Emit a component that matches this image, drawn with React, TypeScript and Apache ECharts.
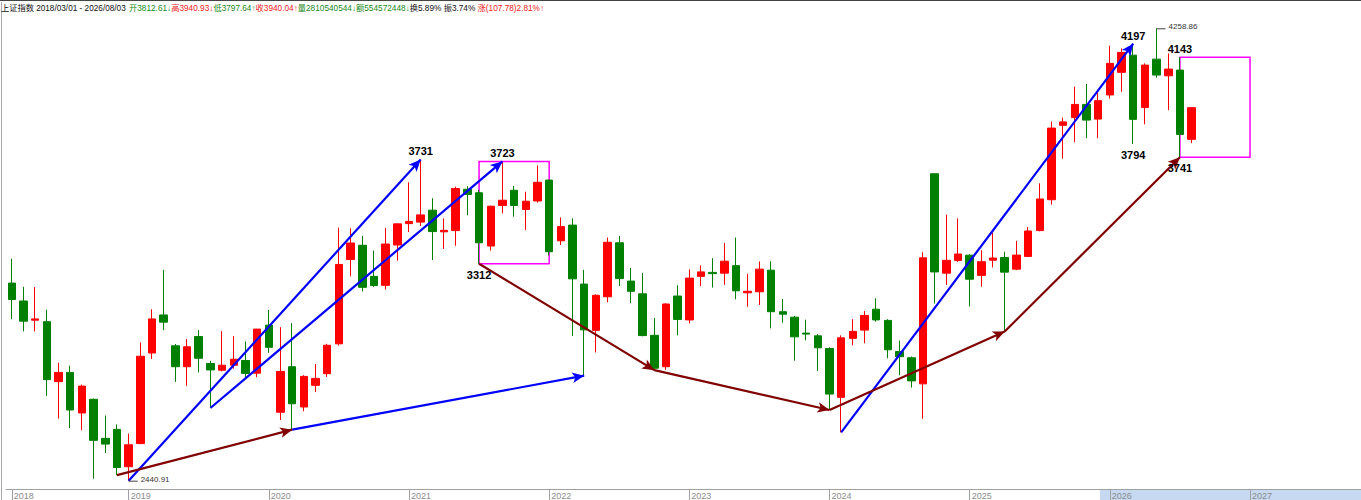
import React, { useEffect, useRef } from 'react';
import * as echarts from 'echarts';

// ---------- data ----------
const START_YEAR = 2018;
const START_MONTH = 3;
const SLOT_COUNT = 116; // data months + empty future months on the right

// each row: [open, high, low, close]
const ohlc2018 = [
  [3235, 3333, 3091, 3169], [3163, 3220, 3041, 3082], [3086, 3219, 3041, 3091],
  [3080, 3128, 2782, 2847], [2839, 2915, 2691, 2876], [2876, 2903, 2653, 2725],
  [2713, 2827, 2644, 2821], [2768, 2771, 2449, 2603], [2611, 2703, 2552, 2588],
  [2647, 2667, 2463, 2494],
];
const ohlc2019 = [
  [2497, 2630, 2440.91, 2585], [2590, 2997, 2588, 2941], [2954, 3130, 2930, 3091],
  [3107, 3288, 3046, 3078], [2983, 2990, 2838, 2899], [2899, 3010, 2822, 2979],
  [3020, 3046, 2876, 2933], [2912, 2923, 2733, 2886], [2885, 3042, 2880, 2905],
  [2905, 3022, 2891, 2929], [2924, 3000, 2857, 2872], [2873, 3051, 2857, 3050],
];
const ohlc2020 = [
  [3066, 3127, 2955, 2977], [2716, 3058, 2685, 2880], [2899, 3074, 2646, 2750],
  [2737, 2865, 2720, 2860], [2824, 2910, 2797, 2852], [2871, 2991, 2858, 2985],
  [2991, 3458, 2984, 3310], [3330, 3455, 3262, 3396], [3387, 3425, 3202, 3218],
  [3262, 3366, 3220, 3225], [3226, 3457, 3209, 3392], [3388, 3474, 3325, 3473],
];
const ohlc2021 = [
  [3474, 3640, 3440, 3483], [3480, 3731.69, 3464, 3509], [3528, 3576, 3328, 3442],
  [3441, 3495, 3372, 3447], [3446, 3622, 3385, 3615], [3612, 3624, 3508, 3591],
  [3598, 3610, 3312.72, 3397], [3384, 3546, 3366, 3544], [3547, 3723.85, 3515, 3568],
  [3608, 3625, 3502, 3547], [3531, 3602, 3448, 3564], [3565, 3708, 3558, 3640],
];
const ohlc2022 = [
  [3649, 3651, 3346, 3361], [3405, 3499, 3388, 3462], [3468, 3495, 3023, 3252],
  [3231, 3288, 2863, 3047], [3045, 3190, 2956, 3186], [3180, 3418, 3158, 3399],
  [3397, 3424, 3223, 3253], [3243, 3296, 3155, 3202], [3192, 3275, 3021, 3024],
  [3025, 3095, 2885, 2893], [2899, 3154, 2886, 3151], [3183, 3226, 3025, 3089],
];
const ohlc2023 = [
  [3087, 3290, 3073, 3255], [3262, 3306, 3223, 3280], [3278, 3335, 3217, 3273],
  [3275, 3396, 3228, 3323], [3305, 3418, 3170, 3204], [3196, 3272, 3140, 3202],
  [3200, 3322, 3147, 3291], [3287, 3322, 3053, 3120], [3120, 3171, 3076, 3110],
  [3098, 3103, 2923, 3019], [3034, 3088, 3005, 3030], [3023, 3030, 2882, 2975],
];
const ohlc2024 = [
  [2972, 2977, 2725, 2789], [2776, 3025, 2635, 3015], [3013, 3090, 2985, 3041],
  [3046, 3123, 2993, 3105], [3130, 3174, 3080, 3087], [3085, 3090, 2933, 2967],
  [2960, 3004, 2865, 2939], [2935, 2940, 2815, 2842], [2830, 3358.59, 2689.7, 3336.5],
  [3674.4, 3674.4, 3152.8, 3279.8], [3275, 3509.8, 3228, 3326.5], [3326, 3494.9, 3320, 3351.8],
];
const ohlc2025 = [
  [3347, 3351, 3141, 3250.6], [3266, 3367, 3220, 3320.9], [3327, 3440, 3298, 3335.7],
  [3338, 3361, 3040.7, 3279], [3291, 3405, 3287, 3347.5], [3342, 3460, 3340, 3444.4],
  [3446, 3636, 3443, 3573], [3570, 3884, 3550, 3857.9], [3869, 3900, 3735, 3882.8],
  [3900, 4024, 3801, 3953], [3953, 4035, 3817, 3890], [3894, 4004, 3817, 3968],
];
const ohlc2026 = [
  [3991, 4189, 3977, 4118], [4082, 4178, 4004, 4162], [4151, 4197, 3794, 3893],
  [3941, 4118, 3873, 4111], [4135, 4258.86, 4060, 4071], [4068, 4158, 3930, 4095],
  [4091, 4143, 3741, 3832.26], [3812.61, 3940.93, 3797.64, 3940.04],
];

// trend lines: [fromMonth, fromValue, toMonth, toValue]
const blueLines: [string, number, string, number][] = [
  ['2019/01', 2440.91, '2021/02', 3731.69],
  ['2019/08', 2733, '2021/09', 3723.85],
  ['2020/03', 2646, '2022/04', 2863],
  ['2024/02', 2635, '2026/03', 4197],
];
const maroonLines: [string, number, string, number][] = [
  ['2018/12', 2463, '2020/03', 2646],
  ['2021/07', 3312.72, '2022/10', 2885],
  ['2022/10', 2885, '2024/01', 2725],
  ['2024/01', 2725, '2025/04', 3040.7],
  ['2025/04', 3040.7, '2026/07', 3741],
];
const boxes: [string, number, string, number][] = [
  ['2021/07', 3723.85, '2022/01', 3312.72],
  ['2026/07', 4143, '2027/01', 3741],
];
const pointLabels = [
  { month: '2021/02', value: 3731.69, text: '3731', side: 'above' },
  { month: '2021/09', value: 3723.85, text: '3723', side: 'above' },
  { month: '2021/07', value: 3312.72, text: '3312', side: 'below' },
  { month: '2026/03', value: 4197, text: '4197', side: 'above' },
  { month: '2026/07', value: 4143, text: '4143', side: 'above' },
  { month: '2026/03', value: 3794, text: '3794', side: 'below' },
  { month: '2026/07', value: 3741, text: '3741', side: 'below' },
];
const extremeLabels = [
  { month: '2019/01', value: 2440.91, text: '2440.91' },
  { month: '2026/05', value: 4258.86, text: '4258.86' },
];

const headerText = '上证指数 2018/03/01 - 2026/08/03';
const quoteItems = [
  { label: '开', value: '3812.61', arrow: '↓', tone: 'g' },
  { label: '高', value: '3940.93', arrow: '↓', tone: 'r' },
  { label: '低', value: '3797.64', arrow: '↑', tone: 'g' },
  { label: '收', value: '3940.04', arrow: '↑', tone: 'r' },
  { label: '量', value: '2810540544', arrow: '↓', tone: 'g' },
  { label: '额', value: '554572448', arrow: '↓', tone: 'g' },
  { label: '换', value: '5.89%', arrow: ' ', tone: 'k' },
  { label: '振', value: '3.74%', arrow: ' ', tone: 'k' },
  { label: '涨', value: '(107.78)2.81%', arrow: '↑', tone: 'r' },
];

const Y_MIN = 2407.5;
const Y_MAX = 4300.3;

// ---------- build ----------
const categories: string[] = [];
for (let i = 0; i < SLOT_COUNT; i++) {
  const m0 = START_MONTH - 1 + i;
  const y = START_YEAR + Math.floor(m0 / 12);
  const m = (m0 % 12) + 1;
  categories.push(`${y}/${String(m).padStart(2, '0')}`);
}
const allRows = [
  ...ohlc2018, ...ohlc2019, ...ohlc2020, ...ohlc2021, ...ohlc2022,
  ...ohlc2023, ...ohlc2024, ...ohlc2025, ...ohlc2026,
];
// echarts order: [open, close, low, high]
const candleData = allRows.map(([o, h, l, c]) => [o, c, l, h]);

const FONT = '"Liberation Sans", Arial, "Noto Sans CJK SC", sans-serif';
const isYearStart = (i: number, v: string) => i === 0 || v.endsWith('/01');

const quotePlain = quoteItems.map((q) => `${q.label}${q.value}${q.arrow}`).join('');
const quoteRich = quoteItems
  .map((q) => `{${q.tone}|${q.label}${q.value}${q.arrow}}`)
  .join('');

function fitFont(text: string, target: number): number {
  const ctx = document.createElement('canvas').getContext('2d');
  if (!ctx) return 9;
  ctx.font = `100px ${FONT}`;
  const w = ctx.measureText(text).width;
  return w > 0 ? (100 * target) / w : 9;
}

const lineItem = (l: [string, number, string, number], color: string) => [
  {
    coord: [l[0], l[1]],
    lineStyle: { color, width: 2.2, type: 'solid' },
    itemStyle: { color },
  },
  { coord: [l[2], l[3]] },
];

const labelData = [
  ...pointLabels.map((p) => [p.month, p.value]),
  ...extremeLabels.map((p) => [p.month, p.value]),
];

function buildOption(): any {
  const headSize = fitFont(headerText, 125);
  const quoteSize = fitFont(quotePlain, 416);
  const rs = (color: string) => ({ color, fontSize: quoteSize, fontFamily: FONT, lineHeight: 12 });
  return {
    animation: false,
    backgroundColor: '#ffffff',
    title: [
      {
        text: headerText,
        left: 1,
        top: 2,
        padding: 0,
        textStyle: {
          color: '#111111',
          fontSize: headSize,
          fontFamily: FONT,
          fontWeight: 'normal',
          lineHeight: 12,
        },
      },
      {
        text: quoteRich,
        left: 129,
        top: 2,
        padding: 0,
        textStyle: {
          fontSize: quoteSize,
          fontFamily: FONT,
          fontWeight: 'normal',
          lineHeight: 12,
          rich: { k: rs('#111111'), g: rs('#1a8a1a'), r: rs('#ee2222') },
        },
      },
    ],
    graphic: [
      {
        type: 'rect',
        z: -10,
        shape: { x: 1100, y: 489, width: 261, height: 11 },
        style: { fill: '#C6D9F1' },
        silent: true,
      },
      {
        type: 'line',
        shape: { x1: 0, y1: 0.5, x2: 1361, y2: 0.5 },
        style: { stroke: '#444444', lineWidth: 1 },
        silent: true,
      },
      {
        type: 'line',
        shape: { x1: 1.5, y1: 2, x2: 1.5, y2: 500 },
        style: { stroke: '#a8a8a8', lineWidth: 1 },
        silent: true,
      },
    ],
    grid: { left: 6, top: 18, width: 1359, height: 471, containLabel: false },
    xAxis: {
      type: 'category',
      data: categories,
      boundaryGap: true,
      axisLine: { onZero: false, lineStyle: { color: '#a0a0a0', width: 1 } },
      axisTick: {
        show: true,
        alignWithLabel: true,
        interval: isYearStart,
        length: 11,
        lineStyle: { color: '#a0a0a0' },
      },
      axisLabel: {
        interval: isYearStart,
        formatter: (v: string) => v.slice(0, 4),
        align: 'left',
        margin: 2,
        padding: [0, 0, 0, 2],
        color: '#8c8c8c',
        fontSize: 9,
        fontFamily: FONT,
      },
      splitLine: { show: false },
    },
    yAxis: { type: 'value', min: Y_MIN, max: Y_MAX, show: false },
    series: [
      {
        type: 'candlestick',
        data: candleData,
        barWidth: 8,
        silent: true,
        itemStyle: {
          color: '#FF0000',
          color0: '#008000',
          borderColor: '#FF0000',
          borderColor0: '#008000',
          borderWidth: 1,
        },
        markLine: {
          silent: true,
          symbol: ['none', 'arrow'],
          symbolSize: [8, 12],
          label: { show: false },
          lineStyle: { type: 'solid', width: 2.2 },
          data: [
            ...blueLines.map((l) => lineItem(l, '#0000FF')),
            ...maroonLines.map((l) => lineItem(l, '#800000')),
          ],
        },
        markArea: {
          silent: true,
          label: { show: false },
          itemStyle: { color: 'rgba(0,0,0,0)', borderColor: '#FF00FF', borderWidth: 1.5 },
          data: boxes.map((b) => [{ coord: [b[0], b[1]] }, { coord: [b[2], b[3]] }]),
        },
      },
      {
        type: 'custom',
        coordinateSystem: 'cartesian2d',
        silent: true,
        clip: false,
        z: 10,
        encode: { x: 0, y: 1 },
        data: labelData,
        renderItem: (params: any, api: any) => {
          const i = params.dataIndex;
          const p = api.coord([api.value(0), api.value(1)]);
          if (i < pointLabels.length) {
            const item = pointLabels[i];
            return {
              type: 'text',
              x: p[0],
              y: p[1] + (item.side === 'above' ? -8 : 11),
              style: {
                text: item.text,
                fill: '#000000',
                fontSize: 11,
                fontWeight: 'bold',
                fontFamily: FONT,
                align: 'center',
                verticalAlign: 'middle',
              },
            };
          }
          const ex = extremeLabels[i - pointLabels.length];
          return {
            type: 'group',
            children: [
              {
                type: 'line',
                shape: { x1: p[0], y1: p[1] + 0.5, x2: p[0] + 9, y2: p[1] + 0.5 },
                style: { stroke: '#444444', lineWidth: 1 },
              },
              {
                type: 'text',
                x: p[0] + 12,
                y: p[1] - 1.5,
                style: {
                  text: ex.text,
                  fill: '#333333',
                  fontSize: 8,
                  fontFamily: FONT,
                  align: 'left',
                  verticalAlign: 'middle',
                },
              },
            ],
          };
        },
      },
    ],
  };
}

export default function App() {
  const ref = useRef<HTMLDivElement>(null);
  useEffect(() => {
    if (!ref.current) return;
    const chart = echarts.init(ref.current, null, { renderer: 'svg' });
    chart.setOption(buildOption());
    return () => chart.dispose();
  }, []);
  return (
    <div
      ref={ref}
      style={{ position: 'absolute', left: 0, top: 0, width: 1361, height: 500 }}
    />
  );
}
